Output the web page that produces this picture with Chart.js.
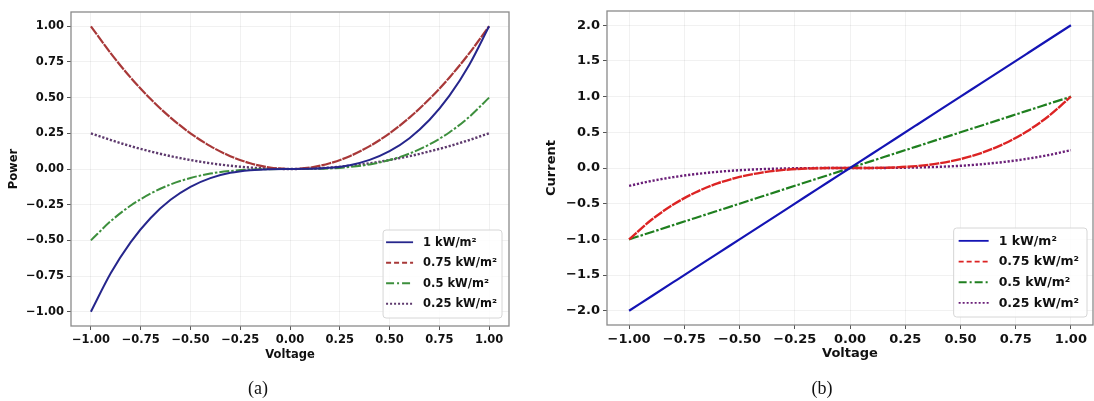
<!DOCTYPE html>
<html>
<head>
<meta charset="utf-8">
<title>Power / Current vs Voltage</title>
<script src="https://cdn.jsdelivr.net/npm/chart.js@4.4.0/dist/chart.umd.min.js"></script>
<style>
  html, body { margin: 0; padding: 0; background: #fff; }
  body { width: 1094px; height: 401px; position: relative; overflow: hidden; }
  canvas { position: absolute; top: 0; }
  #powerChart { left: 0; }
  #currentChart { left: 540px; }
  .caption {
    position: absolute; top: 378px; line-height: 20px;
    font-family: "Liberation Serif", "DejaVu Serif", serif; font-size: 18px; color: #111;
    transform: translateX(-50%);
  }
</style>
</head>
<body>
<canvas id="powerChart" width="540" height="401"></canvas>
<canvas id="currentChart" width="554" height="401"></canvas>
<div class="caption" style="left:258px">(a)</div>
<div class="caption" style="left:822px">(b)</div>

<script>
// Readings, shared voltage axis for both panels
const voltage = [-1, -0.9, -0.8, -0.7, -0.6, -0.5, -0.4, -0.3, -0.2, -0.1, 0, 0.1, 0.2, 0.3, 0.4, 0.5, 0.6, 0.7, 0.8, 0.9, 1];

// (a) Power
const power1 = [-1, -0.729, -0.512, -0.343, -0.216, -0.125, -0.064, -0.027, -0.008, -0.001, 0, 0.001, 0.008, 0.027, 0.064, 0.125, 0.216, 0.343, 0.512, 0.729, 1];
const power075 = [1, 0.81, 0.64, 0.49, 0.36, 0.25, 0.16, 0.09, 0.04, 0.01, 0, 0.01, 0.04, 0.09, 0.16, 0.25, 0.36, 0.49, 0.64, 0.81, 1];
const power05 = [-0.5, -0.365, -0.256, -0.172, -0.108, -0.063, -0.032, -0.014, -0.004, -0.001, 0, 0.001, 0.004, 0.014, 0.032, 0.063, 0.108, 0.172, 0.256, 0.365, 0.5];
const power025 = [0.25, 0.203, 0.16, 0.123, 0.09, 0.063, 0.04, 0.023, 0.01, 0.003, 0, 0.003, 0.01, 0.023, 0.04, 0.063, 0.09, 0.123, 0.16, 0.203, 0.25];

// (b) Current
const current1 = [-2, -1.8, -1.6, -1.4, -1.2, -1, -0.8, -0.6, -0.4, -0.2, 0, 0.2, 0.4, 0.6, 0.8, 1, 1.2, 1.4, 1.6, 1.8, 2];
const current075 = [-1, -0.729, -0.512, -0.343, -0.216, -0.125, -0.064, -0.027, -0.008, -0.001, 0, 0.001, 0.008, 0.027, 0.064, 0.125, 0.216, 0.343, 0.512, 0.729, 1];
const current05 = [-1, -0.9, -0.8, -0.7, -0.6, -0.5, -0.4, -0.3, -0.2, -0.1, 0, 0.1, 0.2, 0.3, 0.4, 0.5, 0.6, 0.7, 0.8, 0.9, 1];
const current025 = [-0.25, -0.182, -0.128, -0.086, -0.054, -0.031, -0.016, -0.007, -0.002, 0, 0, 0, 0.002, 0.007, 0.016, 0.031, 0.054, 0.086, 0.128, 0.182, 0.25];

const seriesLabels = ['1 kW/m\u00b2', '0.75 kW/m\u00b2', '0.5 kW/m\u00b2', '0.25 kW/m\u00b2'];

const voltageTicks = [-1, -0.75, -0.5, -0.25, 0, 0.25, 0.5, 0.75, 1];
const powerTicks = [-1, -0.75, -0.5, -0.25, 0, 0.25, 0.5, 0.75, 1];
const currentTicks = [-2, -1.5, -1, -0.5, 0, 0.5, 1, 1.5, 2];

// matplotlib-ish line styles (the curves look almost solid in the scan)
const dashStyles = {
  solid: [],
  dashed: [10, 1],
  dashdot: [10, 2, 2.5, 2],
  dotted: [2.2, 1.8]
};
const legendDashes = [[], [5, 3], [8, 3, 2, 3], [2, 2]];

const FONT = '"DejaVu Sans", Verdana, sans-serif';

const fmt = (digits) => (v) => {
  const s = Math.abs(v).toFixed(digits);
  return v < -1e-9 ? '\u2212' + s : s;
};

// full box round the plot, like matplotlib spines
const framePlugin = {
  id: 'frame',
  afterDatasetsDraw(chart) {
    const { ctx, chartArea: a } = chart;
    ctx.save();
    ctx.strokeStyle = '#8a8a8a';
    ctx.lineWidth = 1.3;
    ctx.strokeRect(a.left, a.top, a.right - a.left, a.bottom - a.top);
    ctx.restore();
  }
};

// legend box in the lower right corner of the plot
const cornerLegend = {
  id: 'cornerLegend',
  afterDraw(chart, args, opts) {
    const { ctx, chartArea: a } = chart;
    const sets = chart.data.datasets;
    ctx.save();
    ctx.font = `bold ${opts.fontSize}px ${FONT}`;
    const textW = Math.max(...sets.map(d => ctx.measureText(d.label).width));
    const w = opts.padLeft + opts.sampleLen + opts.gap + textW + opts.padRight;
    const h = opts.padTop + opts.rowH * sets.length + opts.padBottom;
    const x0 = a.right - opts.marginRight - w;
    const y0 = a.bottom - opts.marginBottom - h;

    ctx.beginPath();
    ctx.roundRect(x0, y0, w, h, 3);
    ctx.fillStyle = 'rgba(255,255,255,0.85)';
    ctx.fill();
    ctx.strokeStyle = '#d6d6d6';
    ctx.lineWidth = 1;
    ctx.stroke();

    sets.forEach((ds, i) => {
      const cy = y0 + opts.padTop + opts.rowH * (i + 0.5);
      ctx.setLineDash(legendDashes[i]);
      ctx.strokeStyle = ds.borderColor;
      ctx.lineWidth = 1.8;
      ctx.beginPath();
      ctx.moveTo(x0 + opts.padLeft, cy);
      ctx.lineTo(x0 + opts.padLeft + opts.sampleLen, cy);
      ctx.stroke();
      ctx.setLineDash([]);
      ctx.fillStyle = '#111';
      ctx.textAlign = 'left';
      ctx.textBaseline = 'middle';
      ctx.fillText(ds.label, x0 + opts.padLeft + opts.sampleLen + opts.gap, cy + 0.5);
    });
    ctx.restore();
  }
};

function makeSeries(values, label, color, dash, width) {
  return {
    label: label,
    data: voltage.map((v, i) => ({ x: v, y: values[i] })),
    borderColor: color,
    borderWidth: width,
    borderDash: dash,
    pointRadius: 0,
    fill: false,
    cubicInterpolationMode: 'monotone'
  };
}

function axis(o) {
  return {
    type: 'linear',
    min: o.min,
    max: o.max,
    afterBuildTicks: (scale) => { scale.ticks = o.ticks.map(v => ({ value: v })); },
    afterFit: (scale) => {
      if (o.width) scale.width = o.width;
      if (o.height) scale.height = o.height;
    },
    grid: {
      color: 'rgba(0,0,0,0.055)',
      lineWidth: 1,
      tickColor: '#555',
      tickLength: 4,
      tickWidth: 1
    },
    border: { display: false },
    ticks: {
      color: '#111',
      padding: 3,
      maxRotation: 0,
      autoSkip: false,
      font: { family: FONT, size: o.fontSize, weight: 'bold' },
      callback: fmt(o.digits)
    },
    title: {
      display: true,
      text: o.title,
      color: '#111',
      padding: o.titlePad,
      font: { family: FONT, size: o.fontSize, weight: 'bold' }
    }
  };
}

function makePanel(id, datasets, cfg) {
  return new Chart(document.getElementById(id), {
    type: 'line',
    data: { datasets: datasets },
    options: {
      responsive: false,
      animation: false,
      layout: { padding: cfg.padding },
      plugins: {
        legend: { display: false },
        tooltip: { enabled: false },
        cornerLegend: cfg.legend
      },
      scales: {
        x: axis({ min: -1.1, max: 1.1, ticks: voltageTicks, digits: 2, title: 'Voltage',
                  height: 40, titlePad: 4, fontSize: cfg.fontSize }),
        y: axis({ min: cfg.yMin, max: cfg.yMax, ticks: cfg.yTicks, digits: cfg.yDigits, title: cfg.yTitle,
                  width: cfg.yWidth, titlePad: cfg.yTitlePad, fontSize: cfg.fontSize })
      }
    },
    plugins: [framePlugin, cornerLegend]
  });
}

document.addEventListener('DOMContentLoaded', function() {
  makePanel('powerChart', [
    makeSeries(power1, seriesLabels[0], '#26268c', dashStyles.solid, 2),
    makeSeries(power075, seriesLabels[1], '#a83838', dashStyles.dashed, 2.2),
    makeSeries(power05, seriesLabels[2], '#3d8f3d', dashStyles.dashdot, 2),
    makeSeries(power025, seriesLabels[3], '#5e3a6e', dashStyles.dotted, 2.4)
  ], {
    padding: { left: 0, top: 12, right: 31, bottom: 35 },
    fontSize: 11.5,
    yMin: -1.1, yMax: 1.1, yTicks: powerTicks, yDigits: 2,
    yTitle: 'Power', yWidth: 71, yTitlePad: 7,
    legend: { fontSize: 11.5, padLeft: 3, sampleLen: 27, gap: 10, padRight: 5,
              padTop: 2, padBottom: 4, rowH: 20.5, marginRight: 7, marginBottom: 8 }
  });

  makePanel('currentChart', [
    makeSeries(current1, seriesLabels[0], '#1414b4', dashStyles.solid, 2.2),
    makeSeries(current075, seriesLabels[1], '#dc2323', dashStyles.dashed, 2.4),
    makeSeries(current05, seriesLabels[2], '#1f7f1f', dashStyles.dashdot, 2.2),
    makeSeries(current025, seriesLabels[3], '#6a1f78', dashStyles.dotted, 2.4)
  ], {
    padding: { left: 0, top: 11, right: 1, bottom: 36 },
    fontSize: 13,
    yMin: -2.2, yMax: 2.2, yTicks: currentTicks, yDigits: 1,
    yTitle: 'Current', yWidth: 67, yTitlePad: 4,
    legend: { fontSize: 12.5, padLeft: 5, sampleLen: 30, gap: 10, padRight: 8,
              padTop: 2.5, padBottom: 3.7, rowH: 20.7, marginRight: 6, marginBottom: 8 }
  });
});
</script>
</body>
</html>
